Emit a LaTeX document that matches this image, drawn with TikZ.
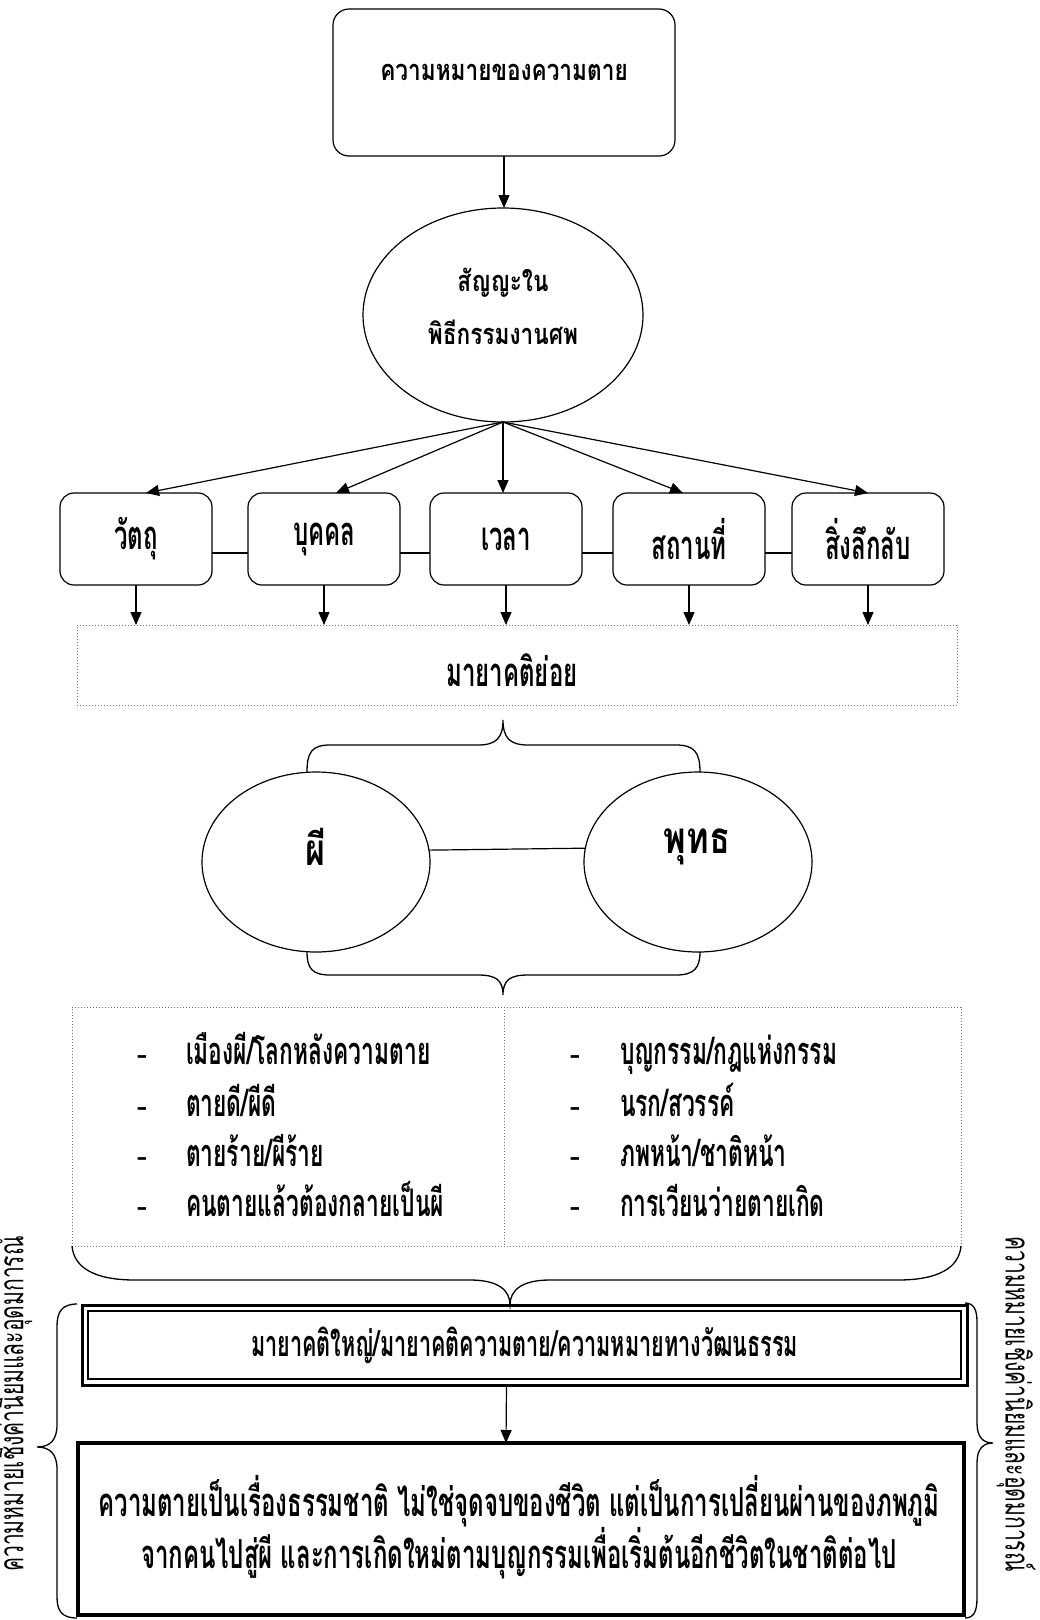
\documentclass[tikz,border=0pt]{standalone}
\usepackage{fontspec}
\setmainfont{Loma}[Script=Thai]
\newfontfamily\thaiw[Script=Thai,FakeStretch=0.78]{Loma}
\newfontfamily\thaic[Script=Thai,FakeStretch=0.6]{Loma}
\newfontfamily\thais[Script=Thai,FakeStretch=0.62]{Loma}
\newfontfamily\latf{Liberation Serif}
\usetikzlibrary{calc,arrows.meta,shapes.geometric}
\newcommand\myW{\thaiw\bfseries\fontsize{29}{53}\selectfont}
\newcommand\myC{\thaic\bfseries\fontsize{40}{46}\selectfont}
\newcommand\myM{\thaic\bfseries\fontsize{36}{40}\selectfont}
\newcommand\myL{\thaic\bfseries\fontsize{38}{40}\selectfont}
\newcommand\myB{\thaiw\bfseries\fontsize{44}{44}\selectfont}
\newcommand\myS{\thais\fontsize{34}{34}\selectfont}
\begin{document}
\begin{tikzpicture}[x=1pt,y=-1pt,
  every node/.style={inner sep=0pt, outer sep=0pt},
  ln/.style={line width=1.2pt},
  arr/.style={ln, -{Triangle[length=13pt,width=11pt]}},
  rbox/.style={draw, ln, rounded corners=14pt, minimum width=152pt, minimum height=92pt, font=\myC},
  dbox/.style={draw=black!55, dotted, line width=1pt},
  ell/.style={draw, ln, ellipse},
  brace/.style={line width=1.3pt},
  bul/.style={font=\latf\bfseries\fontsize{32}{32}\selectfont, anchor=base},
  item/.style={font=\myL, anchor=base west}]
\useasboundingbox[fill=white] (0,0) rectangle (1039,1620);

% top box
\node[draw, ln, rounded corners=16pt, minimum width=342pt, minimum height=147pt] (top) at (504,82.5) {};
\node[font=\myW] (toptxt) at (504,72) {ความหมายของความตาย};

% ellipse
\node[ell, minimum width=280pt, minimum height=214pt] (sym) at (503,315) {};
\node[font=\myW, align=center] (symtxt) at (503,306) {สัญญะใน\\พิธีกรรมงานศพ};
\draw[arr] (top.south) -- (top.south |- sym.north);

% five boxes
\node[rbox] (b1) at (136,539) {วัตถุ};
\node[rbox] (b2) at (324,539) {บุคคล};
\node[rbox] (b3) at (506,539) {เวลา};
\node[rbox] (b4) at (689,539) {สถานที่};
\node[rbox] (b5) at (868,539) {สิ่งลึกลับ};

\draw[arr] (sym.south) -- ($(b1.north)+(10,0)$);
\draw[arr] (sym.south) -- ($(b2.north)+(12,0)$);
\draw[arr] (sym.south) -- (b3.north -| sym.south);
\draw[arr] (sym.south) -- ($(b4.north)+(-6,0)$);
\draw[arr] (sym.south) -- ($(b5.north)+(0,0)$);

\draw[ln] ($(b1.east)+(0,14)$) -- ($(b2.west)+(0,14)$);
\draw[ln] ($(b2.east)+(0,14)$) -- ($(b3.west)+(0,14)$);
\draw[ln] ($(b3.east)+(0,14)$) -- ($(b4.west)+(0,14)$);
\draw[ln] ($(b4.east)+(0,14)$) -- ($(b5.west)+(0,14)$);

% sub myth box
\node[dbox, minimum width=880pt, minimum height=80pt] (sub) at (517,665) {};
\node[font=\myC] (subtxt) at (512,670) {มายาคติย่อย};
\draw[arr] (b1.south) -- (b1.south |- sub.north);
\draw[arr] (b2.south) -- (b2.south |- sub.north);
\draw[arr] (b3.south) -- (b3.south |- sub.north);
\draw[arr] (b4.south) -- (b4.south |- sub.north);
\draw[arr] (b5.south) -- (b5.south |- sub.north);

% upper brace (tip up)
\draw[brace] (307,772) .. controls (307,752) and (312,745) .. (330,745) -- (478,745)
  .. controls (496,745) and (503,738) .. (503,720)
  .. controls (503,738) and (510,745) .. (528,745) -- (676,745)
  .. controls (694,745) and (700,752) .. (700,772);

% ghost / buddha
\node[ell, minimum width=228pt, minimum height=180pt] (ghost) at (316,862) {};
\node[ell, minimum width=228pt, minimum height=180pt] (buddha) at (698,862) {};
\node[font=\myB] (ghosttxt) at (316,847) {ผี};
\node[font=\myB] (buddhatxt) at (697,847) {พุทธ};
\draw[ln] (ghost.6.5) -- (buddha.173.5);

% lower brace (tip down)
\draw[brace] (307,952) .. controls (307,968) and (312,975) .. (330,975) -- (478,975)
  .. controls (496,975) and (503,980) .. (503,995)
  .. controls (503,980) and (510,975) .. (528,975) -- (676,975)
  .. controls (694,975) and (700,968) .. (700,952);

% list box
\node[dbox, minimum width=889pt, minimum height=239pt] (list) at (516.5,1126.5) {};
\draw[dbox] ($(list.north)+(-12,0)$) -- ($(list.south)+(-12,0)$);
\node[bul] (bl1) at (142,1064) {-};
\node[bul] (bl2) at (142,1116) {-};
\node[bul] (bl3) at (142,1166) {-};
\node[bul] (bl4) at (142,1216) {-};
\node[item] (l1) at (186,1064) {เมืองผี/โลกหลังความตาย};
\node[item] (l2) at (186,1116) {ตายดี/ผีดี};
\node[item] (l3) at (186,1166) {ตายร้าย/ผีร้าย};
\node[item] (l4) at (186,1216) {คนตายแล้วต้องกลายเป็นผี};
\node[bul] (br1) at (575,1064) {-};
\node[bul] (br2) at (575,1116) {-};
\node[bul] (br3) at (575,1166) {-};
\node[bul] (br4) at (575,1216) {-};
\node[item] (r1) at (620,1064) {บุญกรรม/กฎแห่งกรรม};
\node[item] (r2) at (620,1116) {นรก/สวรรค์};
\node[item] (r3) at (620,1166) {ภพหน้า/ชาติหน้า};
\node[item] (r4) at (620,1216) {การเวียนว่ายตายเกิด};

% big brace under list
\draw[brace] (72,1246) .. controls (74,1268) and (95,1280) .. (135,1280) -- (470,1280)
  .. controls (498,1280) and (510,1290) .. (510,1305)
  .. controls (510,1290) and (522,1280) .. (550,1280) -- (898,1280)
  .. controls (938,1280) and (959,1268) .. (961,1246);

% major myth double box
\node[draw, line width=3pt, minimum width=885pt, minimum height=80pt, font=\myM] (major) at (524.5,1345) {มายาคติใหญ่/มายาคติความตาย/ความหมายทางวัฒนธรรม};
\draw[line width=1.3pt] ($(major.north west)+(6,6)$) rectangle ($(major.south east)+(-6,-6)$);

% final thick box
\node[draw, line width=4pt, minimum width=886pt, minimum height=172pt] (final) at (521,1529) {};
\node[font=\myC, align=center] (finaltxt) at (519,1527) {ความตายเป็นเรื่องธรรมชาติ ไม่ใช่จุดจบของชีวิต แต่เป็นการเปลี่ยนผ่านของภพภูมิ\\จากคนไปสู่ผี และการเกิดใหม่ตามบุญกรรมเพื่อเริ่มต้นอีกชีวิตในชาติต่อไป};
\draw[arr] ($(major.south)+(-18,0)$) -- ($(final.north)+(-15,0)$);

% side braces
\draw[brace] (77,1304) .. controls (62,1304) and (57,1312) .. (57,1326) -- (57,1425)
  .. controls (57,1440) and (50,1447) .. (37,1447)
  .. controls (50,1447) and (57,1454) .. (57,1469) -- (57,1597)
  .. controls (57,1611) and (62,1618) .. (77,1618);
\draw[brace] (965,1303) .. controls (974,1303) and (977,1310) .. (977,1322) -- (977,1423)
  .. controls (977,1437) and (983,1443) .. (993,1443)
  .. controls (983,1443) and (977,1449) .. (977,1463) -- (977,1598)
  .. controls (977,1611) and (974,1618) .. (965,1618);
\node[font=\myS, rotate=90] (lside) at (13,1404) {ความหมายเชิงค่านิยมและอุดมการณ์};
\node[font=\myS, rotate=-90] (rside) at (1016,1404) {ความหมายเชิงค่านิยมและอุดมการณ์};
\end{tikzpicture}
\end{document}
